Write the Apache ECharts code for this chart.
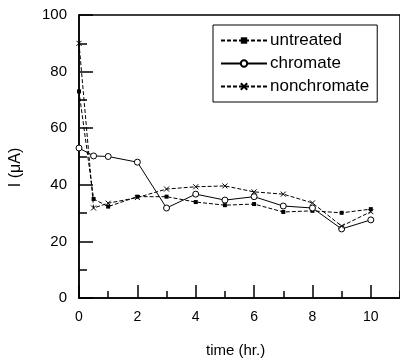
<!DOCTYPE html>
<html>
<head>
<meta charset="utf-8">
<script src="https://cdn.jsdelivr.net/npm/echarts@6/dist/echarts.min.js"></script>
<style>
  html, body { margin: 0; padding: 0; background: #fff; }
  #chart { width: 400px; height: 363px; }
</style>
</head>
<body>
<div id="chart"></div>
<script>
// time (hr.) of each reading
var time = [0, 0.5, 1, 2, 3, 4, 5, 6, 7, 8, 9, 10];
// current I (uA)
var untreated = [73, 35, 32.3, 35.8, 35.8, 33.9, 32.8, 33.2, 30.4, 30.8, 30.1, 31.4];
var chromate = [53, 50.2, 50, 48, 31.8, 36.7, 34.6, 35.8, 32.5, 31.8, 24.4, 27.6];
var nonchromate = [90, 31.8, 33.5, 35.5, 38.5, 39.3, 39.6, 37.5, 36.7, 33.6, 25.4, 30.5];

var font = '"Liberation Sans", Arial, sans-serif';

function pairs(ys) {
  return time.map(function (t, i) { return [t, ys[i]]; });
}

var myChart = echarts.init(document.getElementById('chart'));
myChart.setOption({
  animation: false,
  textStyle: { fontFamily: font, color: '#000' },
  title: {
    text: 'time (hr.)',
    left: 206,
    top: 343,
    padding: 0,
    textStyle: { fontFamily: font, fontSize: 15, fontWeight: 'normal', color: '#000' }
  },
  legend: {
    orient: 'vertical',
    left: 213,
    top: 25,
    padding: [7, 8, 7, 7],
    borderColor: '#000',
    borderWidth: 1,
    itemWidth: 46,
    itemHeight: 8,
    itemGap: 6,
    textStyle: { fontFamily: font, fontSize: 17, color: '#000', padding: [0, 0, 0, -2] },
    data: ['untreated', 'chromate', 'nonchromate']
  },
  grid: {
    left: 79,
    top: 15,
    width: 323,
    height: 283,
    show: true,
    borderColor: '#000',
    borderWidth: 1.5
  },
  xAxis: [
    {
      type: 'value',
      min: 0,
      max: 11,
      interval: 2,
      axisLine: { lineStyle: { color: '#000', width: 1.5 } },
      axisTick: { inside: true, length: 13, lineStyle: { color: '#000', width: 1.5 } },
      axisLabel: { showMaxLabel: false, margin: 12, fontSize: 14, color: '#000', fontFamily: font },
      splitLine: { show: false }
    },
    {
      type: 'value',
      position: 'bottom',
      min: 0,
      max: 11,
      interval: 1,
      axisLine: { show: false },
      axisTick: { inside: true, length: 7, lineStyle: { color: '#000', width: 1.5 } },
      axisLabel: { show: false },
      splitLine: { show: false }
    }
  ],
  yAxis: [
    {
      type: 'value',
      min: 0,
      max: 100,
      interval: 20,
      name: 'I (μA)',
      nameLocation: 'middle',
      nameGap: 55,
      nameTextStyle: { fontFamily: font, fontSize: 16, color: '#000', padding: [0, 22, 0, 0] },
      axisLine: { lineStyle: { color: '#000', width: 1.5 } },
      axisTick: { inside: true, length: 14, lineStyle: { color: '#000', width: 1.5 } },
      axisLabel: { margin: 12, fontSize: 15, color: '#000', fontFamily: font },
      splitLine: { show: false }
    },
    {
      type: 'value',
      position: 'left',
      min: 0,
      max: 100,
      interval: 10,
      axisLine: { show: false },
      axisTick: { inside: true, length: 8, lineStyle: { color: '#000', width: 1.5 } },
      axisLabel: { show: false },
      splitLine: { show: false }
    }
  ],
  series: [
    {
      name: 'untreated',
      type: 'line',
      data: pairs(untreated),
      symbol: 'rect',
      symbolSize: 4,
      itemStyle: { color: '#000' },
      lineStyle: { color: '#000', width: 1, type: [4, 2] }
    },
    {
      name: 'chromate',
      type: 'line',
      data: pairs(chromate),
      symbol: 'circle',
      symbolSize: 6,
      itemStyle: { color: '#fff', borderColor: '#000', borderWidth: 1 },
      lineStyle: { color: '#000', width: 1 }
    },
    {
      name: 'nonchromate',
      type: 'line',
      data: pairs(nonchromate),
      symbol: 'path://M0,0L10,10M10,0L0,10',
      symbolSize: 5,
      itemStyle: { color: 'transparent', borderColor: '#000', borderWidth: 1 },
      lineStyle: { color: '#000', width: 1, type: [4, 2] }
    }
  ]
});
</script>
</body>
</html>
